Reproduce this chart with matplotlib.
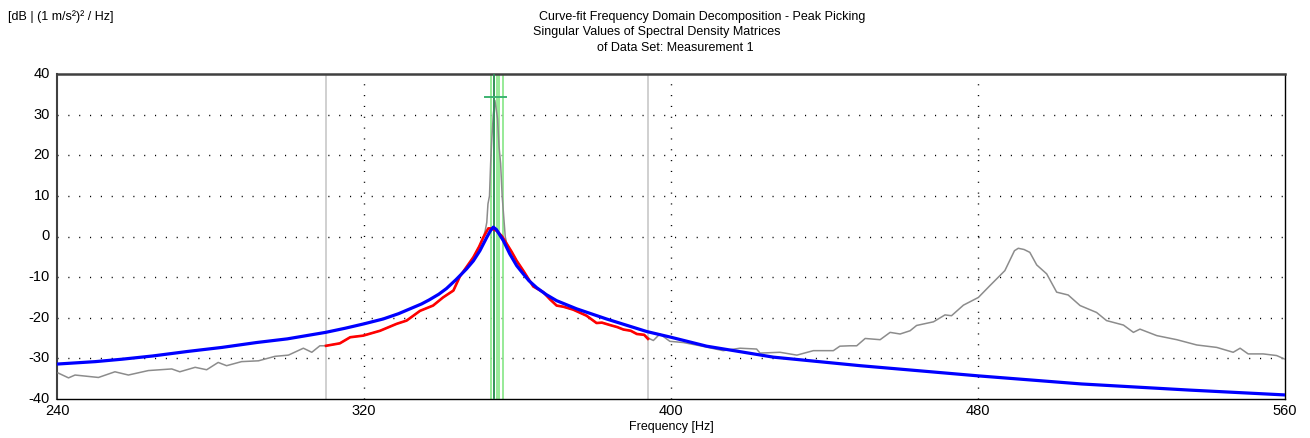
import matplotlib
matplotlib.use("Agg")
import matplotlib.pyplot as plt
from matplotlib.transforms import ScaledTranslation

plt.rcParams['font.family'] = ['Liberation Sans', 'DejaVu Sans']
plt.rcParams['axes.unicode_minus'] = False

# ---- data ----
gray_freq = [240.3, 243.0, 244.7, 250.8, 255.1, 258.6, 263.8, 269.9, 272.0, 276.0, 279.0, 282.0,
             284.2, 288.1, 292.5, 296.8, 300.3, 304.2, 306.4, 308.5, 310.1,
             313.7, 316.4, 319.8, 324.2, 328.5, 331.1, 334.6, 338.0, 340.6, 343.3, 345.0,
             346.5, 348.5, 350.0, 351.1, 351.6, 352.0, 352.3, 352.7, 353.0, 353.3, 353.7, 354.1,
             354.5, 354.8, 355.2, 355.6, 356.0, 356.4, 356.8, 357.2, 358.5, 359.8, 361.5,
             364.1, 366.7, 368.5, 370.2, 372.0, 374.5, 378.0, 380.6, 382.0, 384.1, 386.0,
             387.6, 389.5, 391.1, 393.0, 394.5, 395.4, 397.1, 399.7, 403.2, 407.6, 413.6,
             418.0, 422.3, 423.2, 428.4, 432.8, 437.1, 442.3, 444.0, 446.6, 448.4, 450.6,
             454.5, 457.1, 459.7, 462.3, 464.0, 468.4, 471.4, 473.1, 476.2, 480.1, 483.1,
             487.0, 489.5, 490.5, 492.0, 493.5, 495.3, 497.9, 500.5, 503.5, 506.6, 510.9,
             513.5, 517.9, 520.5, 522.2, 526.6, 531.8, 537.0, 542.2, 546.5, 548.3, 550.4,
             554.3, 557.8, 560.0]
gray_db = [-33.6, -34.8, -34.1, -34.7, -33.3, -34.1, -33.0, -32.6, -33.3, -32.2, -32.8, -31.0,
           -31.8, -30.8, -30.6, -29.5, -29.2, -27.5, -28.5, -26.9, -26.9,
           -26.3, -24.8, -24.4, -23.2, -21.5, -20.7, -18.3, -17.0, -15.0, -13.3, -9.8,
           -7.8, -5.1, -2.5, -0.2, 1.5, 3.5, 8.0, 10.0, 18.0, 24.0, 30.0, 33.5,
           31.0, 29.0, 22.0, 18.0, 10.0, 5.0, 0.0, -1.8, -3.8, -6.0, -8.4,
           -12.3, -13.7, -15.5, -17.0, -17.3, -18.0, -19.5, -21.3, -21.2, -21.8, -22.3,
           -22.9, -23.2, -24.0, -24.2, -25.2, -25.6, -24.0, -25.8, -26.1, -26.9, -28.1,
           -27.5, -27.7, -28.7, -28.5, -29.2, -28.1, -28.1, -27.0, -26.9, -26.9, -25.1,
           -25.4, -23.6, -24.0, -23.2, -21.9, -21.0, -19.3, -19.5, -16.9, -15.0, -12.1,
           -8.4, -3.5, -2.9, -3.2, -3.9, -7.0, -9.2, -13.7, -14.4, -17.0, -18.7,
           -20.7, -21.8, -23.6, -22.8, -24.4, -25.4, -26.7, -27.3, -28.5, -27.5, -28.9,
           -28.9, -29.3, -30.2]

red_freq = [310.1, 313.7, 316.4, 319.8, 324.2, 328.5, 331.1, 334.6, 338.0, 340.6, 343.3, 345.0,
            346.5, 348.5, 350.0, 351.1, 352.4, 353.2, 354.6, 356.0, 357.2, 358.5, 359.8,
            361.5, 364.1, 366.7, 368.5, 370.2, 372.0, 374.5, 378.0, 380.6, 382.0, 384.1,
            386.0, 387.6, 389.5, 391.1, 393.0, 394.0]
red_db = [-26.9, -26.3, -24.8, -24.4, -23.2, -21.5, -20.7, -18.3, -17.0, -15.0, -13.3, -9.8,
          -7.8, -5.1, -2.5, -0.2, 2.0, 2.0, 1.4, 0.0, -1.8, -3.8, -6.0,
          -8.4, -12.3, -13.7, -15.5, -17.0, -17.3, -18.0, -19.5, -21.3, -21.2, -21.8,
          -22.3, -22.9, -23.2, -24.0, -24.2, -25.2]

blue_freq = [240, 250, 257, 265, 274, 283, 292, 300, 310, 315, 320, 325, 329, 332, 335, 337,
             339.5, 341.5, 344, 346.7, 348.5, 350.2, 352, 353, 353.7, 354.5, 356.3, 358,
             359.8, 361.5, 363, 365, 367.5, 370.2, 375.4, 383.2, 393.7, 400, 409.3, 426.7,
             449.3, 480, 507, 535, 560]
blue_db = [-31.4, -30.8, -30.2, -29.4, -28.3, -27.3, -26.1, -25.2, -23.6, -22.6, -21.5, -20.3,
           -19.0, -17.8, -16.6, -15.6, -14.2, -12.8, -10.6, -8.0, -6.0, -3.5, -0.2, 1.5, 2.3,
           1.7, -1.0, -4.3, -7.2, -9.2, -10.9, -12.6, -14.3, -15.8, -17.8, -20.3, -23.4,
           -24.8, -27.0, -29.7, -31.8, -34.3, -36.3, -37.8, -39.0]

band_limits = [310.1, 394.0]
light_green_lines = [353.2, 353.8, 354.7, 355.3, 356.3]
peak_freq = 353.95
peak_marker_db = 34.4
peak_marker_span = [351.5, 356.9]

x_ticks = [240, 320, 400, 480, 560]
y_ticks = [40, 30, 20, 10, 0, -10, -20, -30, -40]

# ---- figure ----
W, H = 1310, 439
fig = plt.figure(figsize=(W / 100, H / 100), dpi=100)
fig.patch.set_facecolor('white')
ax = fig.add_axes([57 / W, (H - 400) / H, 1228 / W, 325 / H])

ax.set_xlim(240, 560)
ax.set_ylim(-40, 40)

# dotted grid
for xt in x_ticks[1:-1]:
    ax.axvline(xt, color='black', lw=1.0, linestyle=(0, (0.8, 7.0)), zorder=1)
for yt in y_ticks[1:-1]:
    ax.axhline(yt, color='black', lw=1.0, linestyle=(0, (0.8, 7.0)), zorder=1)

# band limits
for b in band_limits:
    ax.axvline(b, color='#c8c8c8', lw=1.2, zorder=2)

# green markers
for g in light_green_lines:
    ax.axvline(g, color='#8fe88f', lw=1.3, zorder=2)

ax.plot(gray_freq, gray_db, color='#8c8c8c', lw=1.1, zorder=3)
ax.axvline(peak_freq, color='#2e8b57', lw=1.3, zorder=4)
ax.plot(peak_marker_span, [peak_marker_db, peak_marker_db], color='#3cb371', lw=1.4, zorder=4)
ax.plot(red_freq, red_db, color='#ff0000', lw=1.9, zorder=5)
ax.plot(blue_freq, blue_db, color='#0000ff', lw=2.3, zorder=6)

ax.set_xticks(x_ticks)
ax.set_yticks(y_ticks)
ax.tick_params(length=0, labelsize=10.5)
ax.tick_params(axis='x', pad=3)
ax.tick_params(axis='y', pad=5)

# y labels sit slightly above their gridlines in the reference
shift_up = ScaledTranslation(0, 2.5 / 100, fig.dpi_scale_trans)
for lbl in ax.get_yticklabels():
    lbl.set_transform(lbl.get_transform() + shift_up)

for side in ['left', 'bottom', 'right']:
    ax.spines[side].set_color('black')
    ax.spines[side].set_linewidth(1.0)
ax.spines['top'].set_color('#404040')
ax.spines['top'].set_linewidth(1.8)
ax.spines['left'].set_color('#404040')
ax.spines['left'].set_linewidth(1.5)

# texts
fig.text(8 / W, 1 - 17 / H, '[dB | (1 m/s²)² / Hz]', fontsize=9, ha='left', va='center')
fig.text(539 / W, 1 - 17 / H, 'Curve-fit Frequency Domain Decomposition - Peak Picking',
         fontsize=9, ha='left', va='center')
fig.text(533 / W, 1 - 32 / H, 'Singular Values of Spectral Density Matrices',
         fontsize=9, ha='left', va='center')
fig.text(597 / W, 1 - 48 / H, 'of Data Set: Measurement 1',
         fontsize=9, ha='left', va='center')
fig.text(671 / W, 1 - 427 / H, 'Frequency [Hz]', fontsize=9, ha='center', va='center')

fig.savefig('out.png', dpi=100)
